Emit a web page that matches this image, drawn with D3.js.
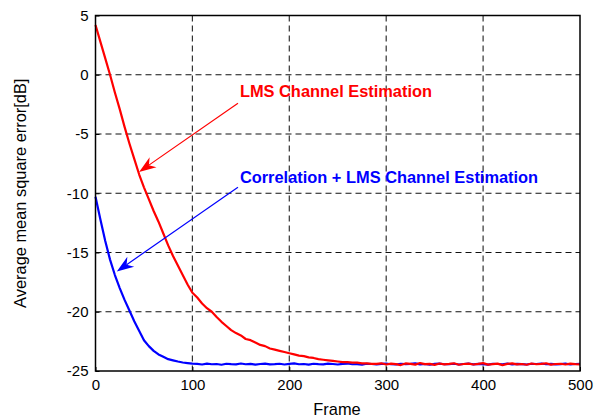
<!DOCTYPE html>
<html lang="en">
<head>
<meta charset="UTF-8">
<title>Average mean square error</title>
<script src="https://cdn.jsdelivr.net/npm/d3@7"></script>
<style>
  body { margin: 0; background: #fff; }
  svg { display: block; font-family: "Liberation Sans", Arial, sans-serif; }
</style>
</head>
<body>
<script>
// frame index (x) every 5 frames
const frames = [0,5,10,15,20,25,30,35,40,45,50,55,60,65,70,75,80,85,90,95,
  100,105,110,115,120,125,130,135,140,145,150,155,160,165,170,175,180,185,190,195,
  200,205,210,215,220,225,230,235,240,245,250,255,260,265,270,275,280,285,290,295,
  300,305,310,315,320,325,330,335,340,345,350,355,360,365,370,375,380,385,390,395,
  400,405,410,415,420,425,430,435,440,445,450,455,460,465,470,475,480,485,490,495,500];

// LMS channel estimation (dB)
const lmsMse = [4.2,2.8,1.4,0.0,-1.5,-2.9,-4.4,-5.8,-7.1,-8.4,
  -9.5,-10.5,-11.5,-12.4,-13.4,-14.4,-15.3,-16.1,-16.9,-17.7,
  -18.4,-18.8,-19.3,-19.7,-20.0,-20.45,-20.85,-21.2,-21.55,-21.8,
  -22.0,-22.3,-22.4,-22.6,-22.8,-22.9,-23.1,-23.2,-23.3,-23.4,
  -23.5,-23.6,-23.7,-23.75,-23.85,-23.9,-24.0,-24.05,-24.1,-24.15,
  -24.2,-24.25,-24.25,-24.3,-24.3,-24.35,-24.35,-24.4,
  -24.4,-24.35,-24.45,-24.38,-24.42,-24.5,-24.36,-24.4,-24.46,-24.33,
  -24.42,-24.4,-24.48,-24.37,-24.44,-24.4,-24.35,-24.47,-24.41,-24.38,
  -24.45,-24.4,-24.34,-24.46,-24.42,-24.38,-24.5,-24.4,-24.36,-24.44,
  -24.41,-24.47,-24.37,-24.43,-24.4,-24.35,-24.46,-24.41,-24.39,-24.45,
  -24.38,-24.42,-24.44];

// Correlation + LMS channel estimation (dB)
const corrLmsMse = [-10.3,-12.2,-14.0,-15.6,-16.9,-18.0,-19.0,-19.9,-20.8,-21.6,
  -22.4,-22.9,-23.3,-23.6,-23.8,-24.0,-24.1,-24.2,-24.28,-24.33,-24.38,
  -24.4,-24.45,-24.38,-24.43,-24.41,-24.47,-24.39,-24.42,-24.44,-24.37,
  -24.43,-24.4,-24.46,-24.41,-24.38,-24.44,-24.42,-24.39,-24.45,-24.4,
  -24.36,-24.43,-24.41,-24.46,-24.39,-24.42,-24.44,-24.38,-24.41,-24.45,
  -24.4,-24.37,-24.43,-24.42,-24.46,-24.39,-24.41,-24.44,-24.4,-24.38,
  -24.43,-24.45,-24.39,-24.42,-24.4,-24.36,-24.44,-24.41,-24.47,-24.4,
  -24.38,-24.43,-24.42,-24.39,-24.45,-24.41,-24.37,-24.44,-24.4,-24.42,
  -24.46,-24.39,-24.41,-24.43,-24.38,-24.44,-24.4,-24.42,-24.45,-24.39,
  -24.41,-24.37,-24.43,-24.4,-24.44,-24.42,-24.38,-24.45,-24.41,-24.4];

const xTicks = [0,100,200,300,400,500];
const yTicks = [5,0,-5,-10,-15,-20,-25];

// annotations: text anchor and arrow (tail -> tip) in data units
const notes = [
  {text:'LMS Channel Estimation', color:'#ff0000', at:[149,-1.9], from:[147,-2.4], to:[45,-8.2]},
  {text:'Correlation + LMS Channel Estimation', color:'#0000ff', at:[149,-9.1], from:[147,-9.5], to:[22,-16.6]}
];

const W = 605, H = 418;
const m = {left:95.5, top:15.5, right:25, bottom:47};

const svg = d3.select('body').append('svg')
  .attr('width', W).attr('height', H);

const x = d3.scaleLinear().domain([0,500]).range([m.left, W - m.right]);
const y = d3.scaleLinear().domain([-25,5]).range([H - m.bottom, m.top]);

// grid
const grid = svg.append('g');
grid.selectAll('line.gx').data(xTicks.slice(1,-1)).enter().append('line')
  .attr('x1', d => x(d)).attr('x2', d => x(d))
  .attr('y1', y(5)).attr('y2', y(-25))
  .attr('stroke', '#333').attr('stroke-width', 1.2).attr('stroke-dasharray', '6,4');
grid.selectAll('line.gy').data(yTicks.slice(1,-1)).enter().append('line')
  .attr('y1', d => y(d)).attr('y2', d => y(d))
  .attr('x1', x(0)).attr('x2', x(500))
  .attr('stroke', '#111').attr('stroke-width', 1).attr('stroke-dasharray', '6,4');

// curves
const line = d3.line().x((d,i) => x(frames[i])).y(d => y(d));
svg.append('path').datum(corrLmsMse).attr('d', line)
  .attr('fill','none').attr('stroke','#0000ff').attr('stroke-width',2.2).attr('stroke-linejoin','round');
svg.append('path').datum(lmsMse).attr('d', line)
  .attr('fill','none').attr('stroke','#ff0000').attr('stroke-width',2.2).attr('stroke-linejoin','round');

// axes (plain hyphen minus like the original)
const fmt = d => String(d);
const xAxis = d3.axisBottom(x).tickValues(xTicks).tickFormat(fmt).tickSize(-4).tickPadding(8);
const yAxis = d3.axisLeft(y).tickValues(yTicks).tickFormat(fmt).tickSize(-4).tickPadding(7);
const gx = svg.append('g').attr('transform', `translate(0,${y(-25)})`).call(xAxis);
const gy = svg.append('g').attr('transform', `translate(${x(0)},0)`).call(yAxis);
[gx, gy].forEach(g => {
  g.select('.domain').remove();
  g.selectAll('line').attr('stroke','#000');
  g.selectAll('text').attr('font-size', 15).attr('fill','#000')
    .attr('font-family','"Liberation Sans", Arial, sans-serif');
});
// box
svg.append('rect')
  .attr('x', x(0)).attr('y', y(5))
  .attr('width', x(500) - x(0)).attr('height', y(-25) - y(5))
  .attr('fill','none').attr('stroke','#000').attr('stroke-width',1.5);

// axis labels
svg.append('text').attr('x', 337).attr('y', 415)
  .attr('text-anchor','middle').attr('font-size',16.4).text('Frame');
svg.append('text')
  .attr('transform', `translate(26,${(y(5)+y(-25))/2}) rotate(-90)`)
  .attr('text-anchor','middle').attr('font-size',16.4)
  .text('Average mean square error[dB]');

// annotations with arrows
notes.forEach(n => {
  const x0 = x(n.from[0]), y0 = y(n.from[1]);
  const x1 = x(n.to[0]), y1 = y(n.to[1]);
  const ang = Math.atan2(y1 - y0, x1 - x0);
  const L = 17, Wd = 6;
  const bx = x1 - L*Math.cos(ang), by = y1 - L*Math.sin(ang);
  const px = -Math.sin(ang), py = Math.cos(ang);
  const cx = x1 - L*0.7*Math.cos(ang), cy = y1 - L*0.7*Math.sin(ang);
  svg.append('line')
    .attr('x1', x0).attr('y1', y0).attr('x2', cx).attr('y2', cy)
    .attr('stroke', n.color).attr('stroke-width', 1.2);
  svg.append('path')
    .attr('d', `M${x1},${y1}L${bx + px*Wd},${by + py*Wd}L${cx},${cy}L${bx - px*Wd},${by - py*Wd}Z`)
    .attr('fill', n.color);
  svg.append('text')
    .attr('x', x(n.at[0])).attr('y', y(n.at[1]))
    .attr('fill', n.color).attr('font-weight','bold').attr('font-size',16.4)
    .text(n.text);
});
</script>
</body>
</html>
